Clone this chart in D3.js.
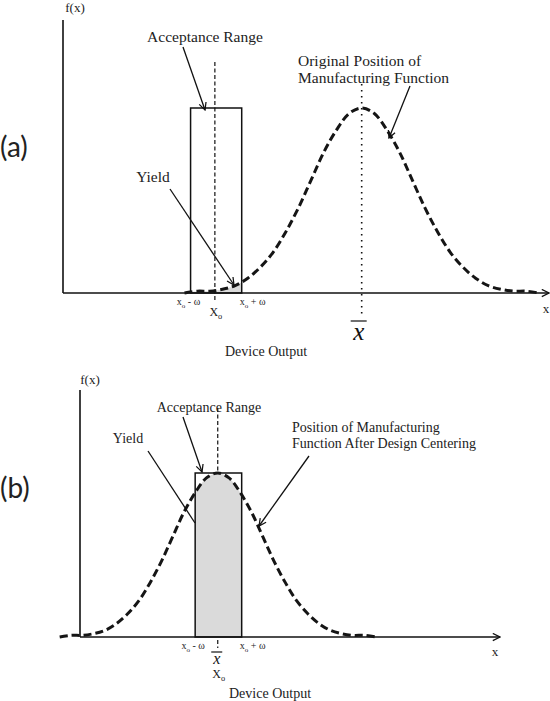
<!DOCTYPE html>
<html>
<head>
<meta charset="utf-8">
<script src="https://cdn.jsdelivr.net/npm/d3@7"></script>
<style>
  body { margin: 0; background: #fff; }
  svg { display: block; }
</style>
</head>
<body>
<svg id="chart"></svg>
<script>
// bell shaped manufacturing function, device output in units of sigma
const curveZ = [-3.5, -3.25, -3, -2.75, -2.5, -2.25, -2, -1.75, -1.5, -1.25, -1, -0.75, -0.5, -0.25, 0,
                0.25, 0.5, 0.75, 1, 1.25, 1.5, 1.75, 2, 2.25, 2.5, 2.75, 3, 3.25, 3.5];
const curveF = [0.00, 0.01, 0.01, 0.02, 0.04, 0.08, 0.14, 0.22, 0.33, 0.46, 0.61, 0.76, 0.88, 0.97, 1.00,
                0.97, 0.88, 0.76, 0.61, 0.46, 0.33, 0.22, 0.14, 0.08, 0.04, 0.02, 0.01, 0.01, 0.00];

// one entry per panel
const panelNames = ["(a)", "(b)"];
const xDomains   = [[-5.9, 3.7], [-3.05, 6.25]];
const acceptLo   = [-3.38, -0.5];
const acceptHi   = [-2.37, 0.53];
const x0Pos      = [-2.9, 0];
const meanPos    = [0, 0];
const calloutText = [
  ["Original Position of", "Manufacturing Function"],
  ["Position of Manufacturing", "Function After Design Centering"]
];

const ctx = {
  width: 550,
  height: 701,
  serif: "'Liberation Serif', 'DejaVu Serif', serif",
  panels: [
    { left: 63, right: 549, base: 293, peak: 108, axisTop: 20, fs: 15.5,
      nameY: 157, fxX: 75, fxY: 12, xLabX: 546, xLabY: 313, devX: 266, devY: 356,
      tickY: 305, x0LineTop: 62, x0LineBot: 302, x0LabY: 316,
      barY: 321, barW: 16, barDx: -3, italY: 340, italSize: 25,
      acc: { tx: 205, ty: 42, x1: 183, y1: 47, x2: 205, y2: 110 },
      yld: { tx: 153, ty: 182, x1: 170, y1: 189, x2: 234, y2: 285, head: true },
      fn:  { tx: 298, ty: 66, lh: 17, x1: 410, y1: 86, x2: 389, y2: 138 },
      meanTop: 84, meanBot: 318 },
    { left: 80, right: 500, base: 637, peak: 473, axisTop: 390, fs: 14,
      nameY: 498, fxX: 90, fxY: 384, xLabX: 495, xLabY: 656, devX: 270, devY: 698,
      tickY: 649, x0LineTop: 408, x0LineBot: 472, x0LabY: 678,
      barY: 652, barW: 11, barDx: -1, italY: 664, italSize: 16,
      acc: { tx: 209, ty: 412, x1: 183, y1: 417, x2: 202, y2: 472 },
      yld: { tx: 128, ty: 443, x1: 148, y1: 451, x2: 195, y2: 523, head: false },
      fn:  { tx: 292, ty: 432, lh: 16, x1: 309, y1: 456, x2: 259, y2: 526 },
      stubTop: 640, stubBot: 648 }
  ]
};

const svg = d3.select("#chart")
  .attr("width", ctx.width)
  .attr("height", ctx.height)
  .attr("font-family", ctx.serif);

const defs = svg.append("defs");
defs.append("marker")
  .attr("id", "head")
  .attr("viewBox", "0 0 10 10")
  .attr("refX", 9).attr("refY", 5)
  .attr("markerWidth", 9).attr("markerHeight", 9)
  .attr("markerUnits", "userSpaceOnUse")
  .attr("orient", "auto")
  .append("path")
    .attr("d", "M1,1 L9,5 L1,9")
    .attr("fill", "none")
    .attr("stroke", "#111")
    .attr("stroke-width", 1.4);

const curveData = curveZ.map((z, i) => ({ z: z, f: curveF[i] }));

function subLabel(g, x, y, main, rest, size) {
  const t = g.append("text")
    .attr("x", x).attr("y", y)
    .attr("text-anchor", "middle")
    .attr("font-size", size)
    .attr("fill", "#1a1a1a");
  t.append("tspan").text(main);
  t.append("tspan").attr("dy", 3).attr("font-size", size * 0.7).text("o");
  if (rest) t.append("tspan").attr("dy", -3).text(rest);
}

function arrow(g, a, withHead) {
  const l = g.append("line")
    .attr("x1", a.x1).attr("y1", a.y1)
    .attr("x2", a.x2).attr("y2", a.y2)
    .attr("stroke", "#111")
    .attr("stroke-width", 1.3);
  if (withHead) l.attr("marker-end", "url(#head)");
}

ctx.panels.forEach((p, i) => {
  const g = svg.append("g");

  const xs = d3.scaleLinear().domain(xDomains[i]).range([p.left, p.right]);
  const ys = d3.scaleLinear().domain([0, 1]).range([p.base, p.peak]);

  // yield: area under the curve inside the acceptance range
  defs.append("clipPath").attr("id", "acc" + i)
    .append("rect")
      .attr("x", xs(acceptLo[i]))
      .attr("y", 0)
      .attr("width", xs(acceptHi[i]) - xs(acceptLo[i]))
      .attr("height", ctx.height);

  g.append("path")
    .datum(curveData)
    .attr("clip-path", `url(#acc${i})`)
    .attr("fill", "#dadada")
    .attr("d", d3.area()
      .x(d => xs(meanPos[i] + d.z))
      .y0(p.base)
      .y1(d => ys(d.f))
      .curve(d3.curveCatmullRom));

  // axes
  g.append("line")
    .attr("x1", p.left).attr("x2", p.left)
    .attr("y1", p.axisTop).attr("y2", p.base)
    .attr("stroke", "#111").attr("stroke-width", 1.6);
  g.append("line")
    .attr("x1", p.left).attr("x2", p.right)
    .attr("y1", p.base).attr("y2", p.base)
    .attr("stroke", "#111").attr("stroke-width", 1.6)
    .attr("marker-end", "url(#head)");

  // acceptance range box
  g.append("rect")
    .attr("x", xs(acceptLo[i]))
    .attr("y", ys(1))
    .attr("width", xs(acceptHi[i]) - xs(acceptLo[i]))
    .attr("height", p.base - ys(1))
    .attr("fill", "none")
    .attr("stroke", "#111")
    .attr("stroke-width", 1.5);

  // x0 line
  g.append("line")
    .attr("x1", xs(x0Pos[i])).attr("x2", xs(x0Pos[i]))
    .attr("y1", p.x0LineTop).attr("y2", p.x0LineBot)
    .attr("stroke", "#111").attr("stroke-width", 1.2)
    .attr("stroke-dasharray", "4,2.5");
  if (p.stubTop) {
    g.append("line")
      .attr("x1", xs(x0Pos[i])).attr("x2", xs(x0Pos[i]))
      .attr("y1", p.stubTop).attr("y2", p.stubBot)
      .attr("stroke", "#111").attr("stroke-width", 1.2)
      .attr("stroke-dasharray", "4,2.5");
  }

  // mean line (dotted) in panel a
  if (p.meanTop) {
    g.append("line")
      .attr("x1", xs(meanPos[i])).attr("x2", xs(meanPos[i]))
      .attr("y1", p.meanTop).attr("y2", p.meanBot)
      .attr("stroke", "#111").attr("stroke-width", 1.6)
      .attr("stroke-dasharray", "1.5,4.5");
  }

  // manufacturing function
  g.append("path")
    .datum(curveData)
    .attr("fill", "none")
    .attr("stroke", "#151515")
    .attr("stroke-width", 3)
    .attr("stroke-dasharray", "8,4")
    .attr("d", d3.line()
      .x(d => xs(meanPos[i] + d.z))
      .y(d => ys(d.f))
      .curve(d3.curveCatmullRom));

  // labels
  g.append("text")
    .attr("x", 0).attr("y", p.nameY)
    .attr("font-family", "Lato, 'Open Sans', sans-serif")
    .attr("font-size", 28)
    .attr("fill", "#222")
    .text(panelNames[i]);

  g.append("text")
    .attr("x", p.fxX).attr("y", p.fxY)
    .attr("text-anchor", "middle")
    .attr("font-size", 13)
    .attr("fill", "#222")
    .text("f(x)");

  g.append("text")
    .attr("x", p.xLabX).attr("y", p.xLabY)
    .attr("text-anchor", "middle")
    .attr("font-size", 13)
    .attr("fill", "#222")
    .text("x");

  g.append("text")
    .attr("x", p.devX).attr("y", p.devY)
    .attr("text-anchor", "middle")
    .attr("font-size", 14)
    .attr("fill", "#222")
    .text("Device Output");

  subLabel(g, xs(acceptLo[i]) - 2, p.tickY, "x", " - ω", 10);
  subLabel(g, xs(acceptHi[i]) + 11, p.tickY, "x", " + ω", 10);
  subLabel(g, xs(x0Pos[i]) + 1, p.x0LabY, "X", null, 12);

  // x bar
  const mx = xs(meanPos[i]) + p.barDx;
  g.append("line")
    .attr("x1", mx - p.barW / 2).attr("x2", mx + p.barW / 2)
    .attr("y1", p.barY).attr("y2", p.barY)
    .attr("stroke", "#111").attr("stroke-width", 1.2);
  g.append("text")
    .attr("x", mx).attr("y", p.italY)
    .attr("text-anchor", "middle")
    .attr("font-size", p.italSize)
    .attr("font-style", "italic")
    .attr("fill", "#111")
    .text("x");

  // callouts
  g.append("text")
    .attr("x", p.acc.tx).attr("y", p.acc.ty)
    .attr("text-anchor", "middle")
    .attr("font-size", p.fs)
    .attr("fill", "#222")
    .text("Acceptance Range");
  arrow(g, p.acc, true);

  g.append("text")
    .attr("x", p.yld.tx).attr("y", p.yld.ty)
    .attr("text-anchor", "middle")
    .attr("font-size", p.fs)
    .attr("fill", "#222")
    .text("Yield");
  arrow(g, p.yld, p.yld.head);

  const ft = g.append("text")
    .attr("x", p.fn.tx).attr("y", p.fn.ty)
    .attr("font-size", p.fs)
    .attr("fill", "#222");
  calloutText[i].forEach((line, k) => {
    ft.append("tspan")
      .attr("x", p.fn.tx)
      .attr("dy", k === 0 ? 0 : p.fn.lh)
      .text(line);
  });
  arrow(g, p.fn, true);
});
</script>
</body>
</html>
